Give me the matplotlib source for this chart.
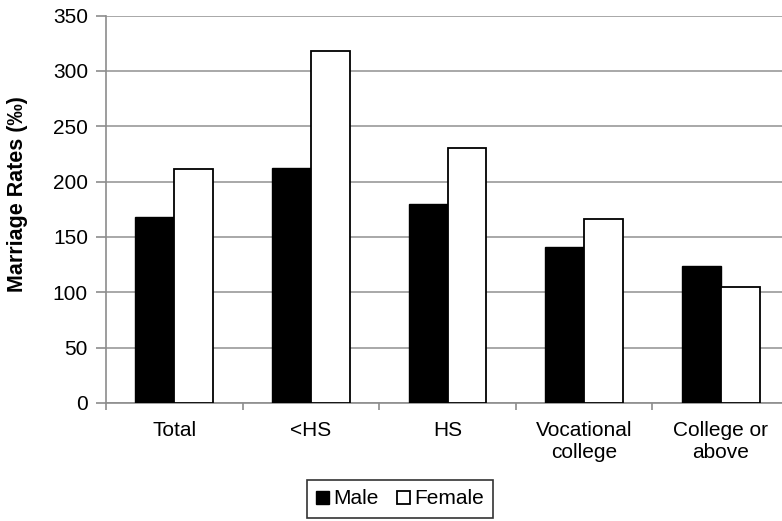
import matplotlib.pyplot as plt
import numpy as np

categories = ['Total', '<HS', 'HS', 'Vocational\ncollege', 'College or\nabove']
male = [168, 212, 180, 141, 124]
female = [211, 318, 230, 166, 105]

plt.rcParams['font.family'] = ['Liberation Sans', 'DejaVu Sans']

W, H = 782, 521
fig = plt.figure(figsize=(W / 100, H / 100), dpi=100)
# axes extends slightly past the right edge, like the cropped original
ax = fig.add_axes([106 / W, 1 - 403 / H, 683 / W, 387.5 / H])

x = np.arange(len(categories))
width = 0.285
ax.bar(x - width / 2, male, width, color='black', edgecolor='black', linewidth=1, label='Male', zorder=3)
ax.bar(x + width / 2, female, width, color='white', edgecolor='black', linewidth=1.3, label='Female', zorder=3)

ax.set_xlim(-0.5, len(categories) - 0.5)
ax.set_ylim(0, 350)
ax.set_yticks(range(0, 351, 50))
ax.yaxis.grid(True, color='#999999', linewidth=1.2, zorder=0)

grey = '#8c8c8c'
for side in ['top', 'right']:
    ax.spines[side].set_visible(False)
for side in ['left', 'bottom']:
    ax.spines[side].set_color(grey)
    ax.spines[side].set_linewidth(1.2)

# category labels centred, ticks on category boundaries
ax.set_xticks(x)
ax.set_xticklabels(categories, fontsize=15, linespacing=1.2)
ax.tick_params(axis='x', which='major', length=0, pad=13)
ax.set_xticks(np.arange(len(categories) + 1) - 0.5, minor=True)
ax.tick_params(axis='x', which='minor', length=5, color=grey, width=1.2)
ax.tick_params(axis='y', length=7, color=grey, width=1.2, labelsize=15, pad=6)

ax.set_ylabel('Marriage Rates (‰)', fontsize=15.5, fontweight='bold')
ax.yaxis.set_label_coords((28 - 106) / 683, 0.54)

leg = fig.legend(loc='center', bbox_to_anchor=(400 / W, 1 - 499 / H), ncol=2,
                 fontsize=15, frameon=True, fancybox=False, edgecolor='black',
                 handlelength=0.6, handleheight=0.6, handletextpad=0.2,
                 columnspacing=0.9, borderpad=0.45)
leg.get_frame().set_linewidth(1.2)

fig.savefig('out.png', dpi=100)
